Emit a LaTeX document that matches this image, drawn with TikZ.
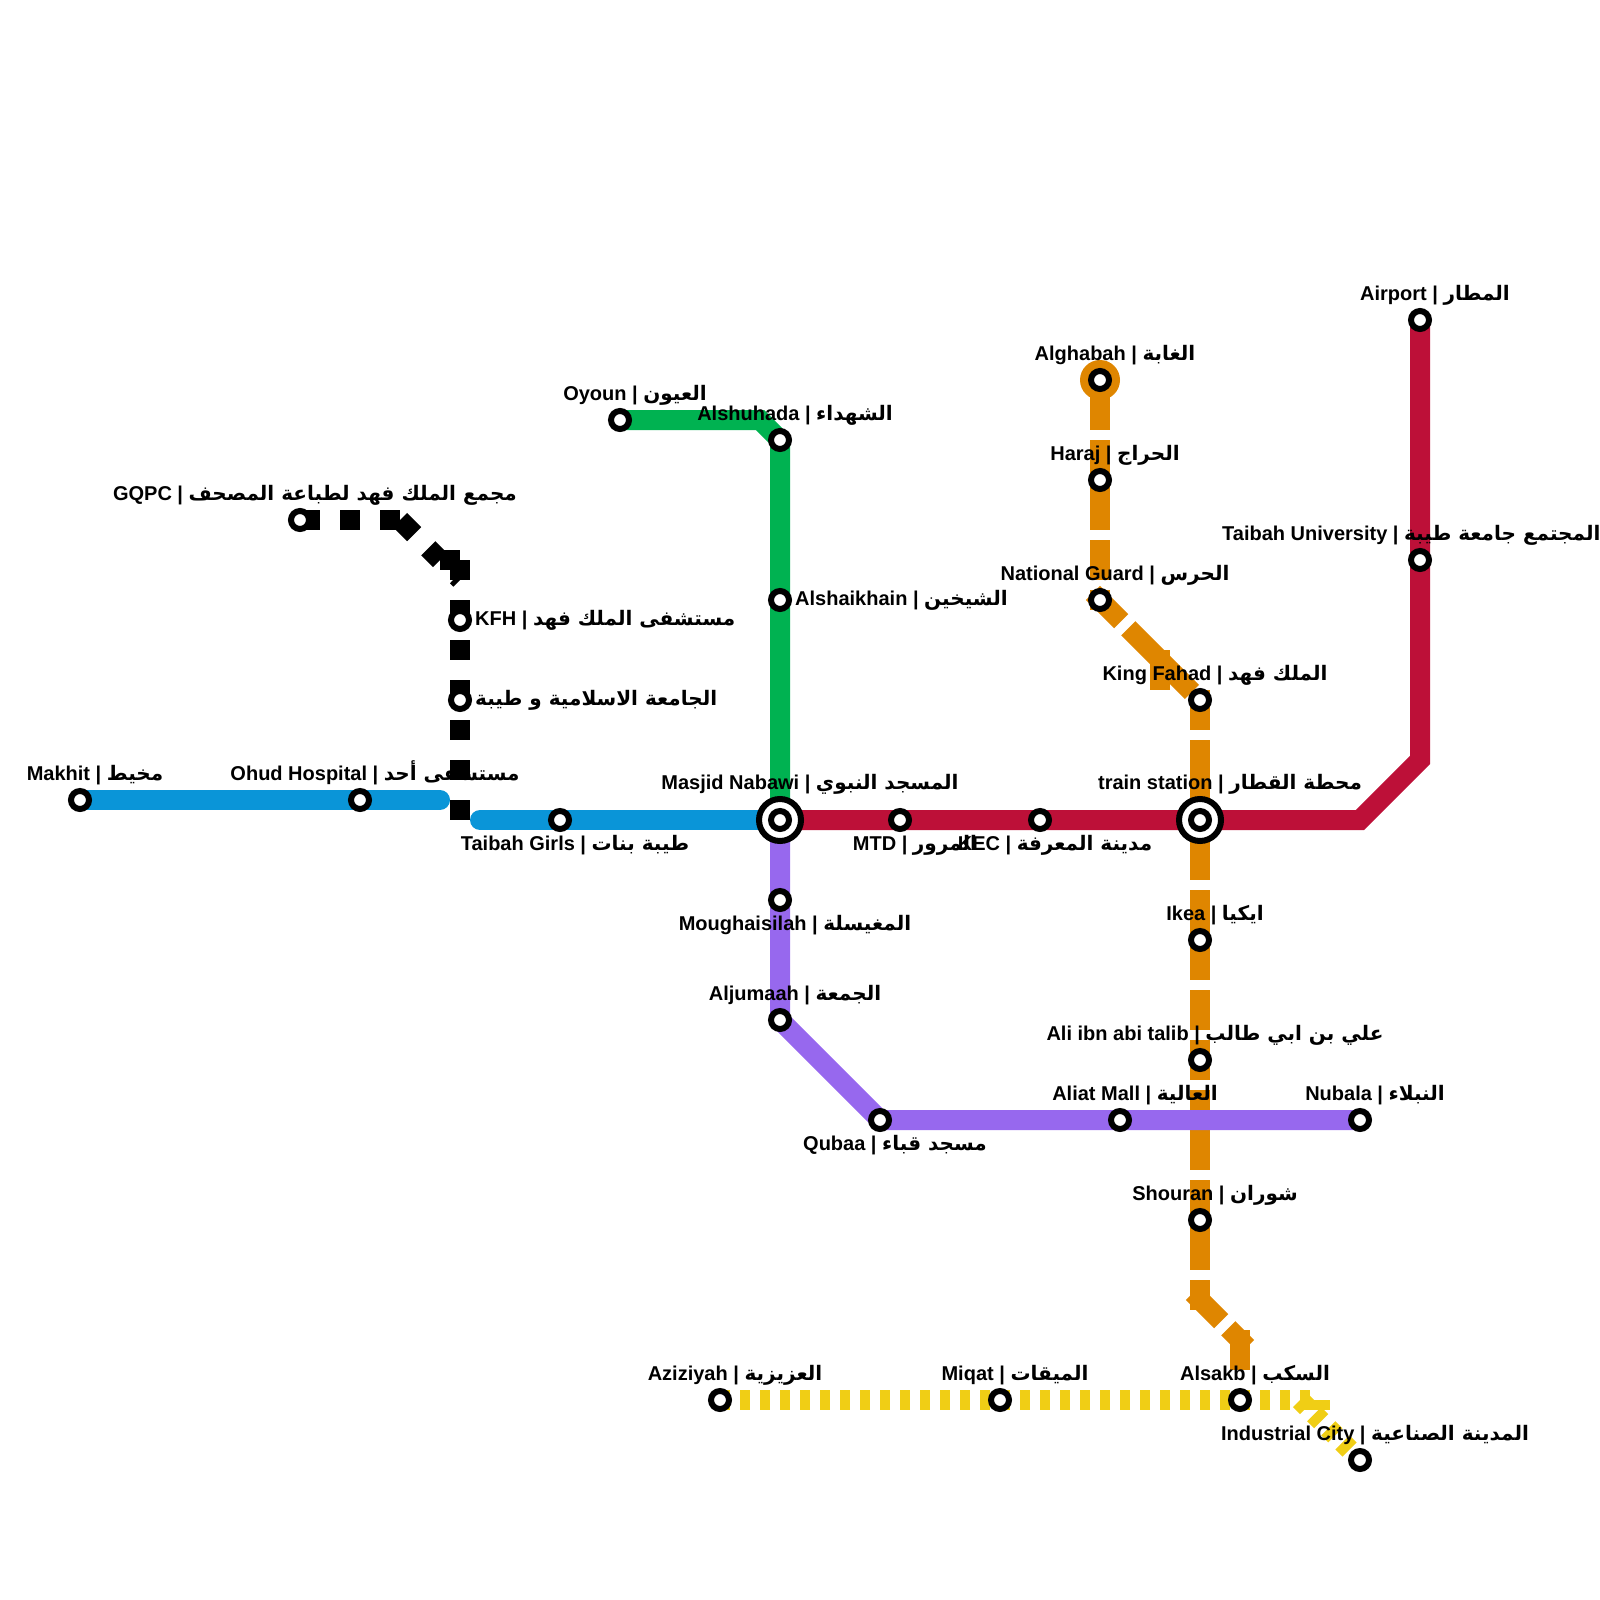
\documentclass[tikz,border=0pt]{standalone}
\usepackage{fontspec}
\setmainfont{Liberation Sans}
\newfontfamily\arabicfont[Script=Arabic]{DejaVu Sans}
\TeXXeTstate=1
\newcommand\arb[1]{{\arabicfont\beginR #1\endR}}
\definecolor{cblue}{HTML}{0A95D8}
\definecolor{cred}{HTML}{BD1038}
\definecolor{cgreen}{HTML}{00B251}
\definecolor{cpurple}{HTML}{9768EE}
\definecolor{corange}{HTML}{DF8600}
\definecolor{cyellow}{HTML}{F0CE15}
\tikzset{
  ln/.style={line width=20pt},
  stn/.style={circle,draw=black,fill=white,line width=6pt,inner sep=0pt,outer sep=0pt,minimum size=18pt},
  hub/.style={circle,draw=black,fill=white,line width=6pt,inner sep=0pt,outer sep=0pt,minimum size=42pt},
  lab/.style={anchor=base,inner sep=0pt,font=\fontsize{20}{24}\selectfont\bfseries,text=black},
  labr/.style={anchor=base west,inner sep=0pt,font=\fontsize{20}{24}\selectfont\bfseries,text=black},
  oln/.style={ln,draw=corange},
  yln/.style={ln,draw=cyellow,dash pattern=on 10pt off 10pt},
  bln/.style={ln,draw=black,dash pattern=on 20pt off 20pt},
}
\begin{document}
\begin{tikzpicture}[x=1pt,y=-1pt]
\useasboundingbox (0,0) rectangle (1600,1600);
% stations
\path
 (80,800) coordinate (makhit) (360,800) coordinate (ohud) (560,820) coordinate (girls)
 (780,820) coordinate (masjid) (900,820) coordinate (mtd) (1040,820) coordinate (kec)
 (1200,820) coordinate (train) (1420,320) coordinate (airport) (1420,560) coordinate (univ)
 (620,420) coordinate (oyoun) (780,440) coordinate (shuhada) (780,600) coordinate (shaikh)
 (780,900) coordinate (mough) (780,1020) coordinate (jumaah) (880,1120) coordinate (qubaa)
 (1120,1120) coordinate (aliat) (1360,1120) coordinate (nubala)
 (1100,380) coordinate (ghabah) (1100,480) coordinate (haraj) (1100,600) coordinate (guard)
 (1200,700) coordinate (fahad) (1200,940) coordinate (ikea) (1200,1060) coordinate (ali)
 (1200,1220) coordinate (shouran) (1240,1400) coordinate (sakb)
 (720,1400) coordinate (aziz) (1000,1400) coordinate (miqat) (1360,1460) coordinate (indus)
 (300,520) coordinate (gqpc) (460,620) coordinate (kfh) (460,700) coordinate (isl)
 % bends and free ends
 (440,800) coordinate (blueA) (480,820) coordinate (blueB)
 (1360,820) coordinate (redA) (1420,760) coordinate (redB)
 (760,420) coordinate (greenA) (780,1020) coordinate (purA)
 (400,520) coordinate (kA) (440,560) coordinate (kB) (460,560) coordinate (kC) (460,820) coordinate (kD)
 (1160,650) coordinate (oA) (1160,690) coordinate (oB)
 (1200,1300) coordinate (oC) (1240,1340) coordinate (oD)
 (1310,1400) coordinate (yA) (1300,1400) coordinate (yB) (1310,1405) coordinate (yC) (1330,1405) coordinate (yD);
% orange
\fill[corange] (ghabah) circle (20pt);
\draw[oln,dash pattern=on 50pt off 10pt on 40pt off 100pt] (ghabah) -- (haraj);
\draw[oln,shorten >=-10pt,dash pattern=on 50pt off 10pt on 40pt off 10pt on 20pt off 100pt] (haraj) -- (guard);
\draw[oln,shorten <=-10pt,shorten >=-10pt,dash pattern=on 40pt off 10pt on 90pt off 100pt] (guard) -- (fahad);
\draw[oln] (oA) -- (oB);
\draw[oln,shorten <=-10pt,dash pattern=on 40pt off 10pt on 80pt off 100pt] (fahad) -- (train);
\draw[oln,dash pattern=on 60pt off 10pt on 50pt off 100pt] (train) -- (ikea);
\draw[oln,dash pattern=on 40pt off 10pt on 40pt off 10pt on 20pt off 100pt] (ikea) -- (ali);
\draw[oln,dash pattern=on 20pt off 10pt on 80pt off 10pt on 40pt off 100pt] (ali) -- (shouran);
\draw[oln,shorten >=-10pt,dash pattern=on 50pt off 10pt on 30pt off 100pt] (shouran) -- (oC);
\draw[oln,shorten <=-10pt,shorten >=-10pt,dash pattern=on 40pt off 10pt on 60pt off 100pt] (oC) -- (oD);
\draw[oln,shorten <=-10pt,dash pattern=on 40pt off 1000pt] (oD) -- (sakb);
% yellow
\draw[yln] (aziz) -- (miqat) -- (sakb) -- (yA);
\draw[yln] (yB) -- (indus);
\draw[draw=cyellow,line width=10pt] (yC) -- (yD);
% black
\draw[bln] (gqpc) -- (kA);
\draw[bln] (kA) -- (kB);
\draw[bln] (kB) -- (kC);
\draw[bln] (kC) -- (kfh) -- (isl) -- (kD);
\fill[black] (450,583.3) -- (453,580) -- (460,580) -- (453.3,586.7) -- cycle;
% blue
\draw[ln,draw=cblue,line cap=round] (makhit) -- (ohud) -- (blueA);
\draw[ln,draw=cblue,line cap=round] (blueB) -- (girls) -- (masjid);
% green
\draw[ln,draw=cgreen] (oyoun) -- (greenA) -- (shuhada) -- (shaikh) -- (masjid);
% red
\draw[ln,draw=cred] (masjid) -- (mtd) -- (kec) -- (train) -- (redA) -- (redB) -- (univ) -- (airport);
% purple
\draw[ln,draw=cpurple] (masjid) -- (mough) -- (jumaah) -- (qubaa) -- (aliat) -- (nubala);
% station marks
\foreach \s in {makhit,ohud,girls,mtd,kec,airport,univ,oyoun,shuhada,shaikh,mough,jumaah,qubaa,aliat,nubala,ghabah,haraj,guard,fahad,ikea,ali,shouran,sakb,aziz,miqat,indus,gqpc,kfh,isl}
  \node[stn] (n\s) at (\s) {};
\node[hub] (nmasjidO) at (masjid) {};
\node[stn] (nmasjid) at (masjid) {};
\node[hub] (ntrainO) at (train) {};
\node[stn] (ntrain) at (train) {};
% labels
\node[lab] (l1) at (95,780) {Makhit | \arb{مخيط}};
\node[lab] (l2) at (375,780) {Ohud Hospital | \arb{مستشفى أحد}};
\node[lab] (l3) at (575,850) {Taibah Girls | \arb{طيبة بنات}};
\node[lab] (l4) at (810,789) {Masjid Nabawi | \arb{المسجد النبوي}};
\node[lab] (l5) at (915,850) {MTD | \arb{المرور}};
\node[lab] (l6) at (1055,850) {KEC | \arb{مدينة المعرفة}};
\node[lab] (l7) at (1230,789) {train station | \arb{محطة القطار}};
\node[lab] (l8) at (1435,300) {Airport | \arb{المطار}};
\node[lab] (l9) at (1411.3,540) {Taibah University | \arb{المجتمع جامعة طيبة}};
\node[lab] (l10) at (635,400) {Oyoun | \arb{العيون}};
\node[lab] (l11) at (795,420) {Alshuhada | \arb{الشهداء}};
\node[labr] (l12) at (795,605) {Alshaikhain | \arb{الشيخين}};
\node[lab] (l13) at (795,930) {Moughaisilah | \arb{المغيسلة}};
\node[lab] (l14) at (795,1000) {Aljumaah | \arb{الجمعة}};
\node[lab] (l15) at (895,1150) {Qubaa | \arb{مسجد قباء}};
\node[lab] (l16) at (1135,1100) {Aliat Mall | \arb{العالية}};
\node[lab] (l17) at (1375,1100) {Nubala | \arb{النبلاء}};
\node[lab] (l18) at (1115,360) {Alghabah | \arb{الغابة}};
\node[lab] (l19) at (1115,460) {Haraj | \arb{الحراج}};
\node[lab] (l20) at (1115,580) {National Guard | \arb{الحرس}};
\node[lab] (l21) at (1215,680) {King Fahad | \arb{الملك فهد}};
\node[lab] (l22) at (1215,920) {Ikea | \arb{ايكيا}};
\node[lab] (l23) at (1215,1040) {Ali ibn abi talib | \arb{علي بن ابي طالب}};
\node[lab] (l24) at (1215,1200) {Shouran | \arb{شوران}};
\node[lab] (l25) at (1255,1380) {Alsakb | \arb{السكب}};
\node[lab] (l26) at (735,1380) {Aziziyah | \arb{العزيزية}};
\node[lab] (l27) at (1015,1380) {Miqat | \arb{الميقات}};
\node[lab] (l28) at (1375,1440) {Industrial City | \arb{المدينة الصناعية}};
\node[lab] (l29) at (315,500) {GQPC | \arb{مجمع الملك فهد لطباعة المصحف}};
\node[labr] (l30) at (475,625) {KFH | \arb{مستشفى الملك فهد}};
\node[labr] (l31) at (475,705) {\arb{الجامعة الاسلامية و طيبة}};
\end{tikzpicture}
\end{document}
